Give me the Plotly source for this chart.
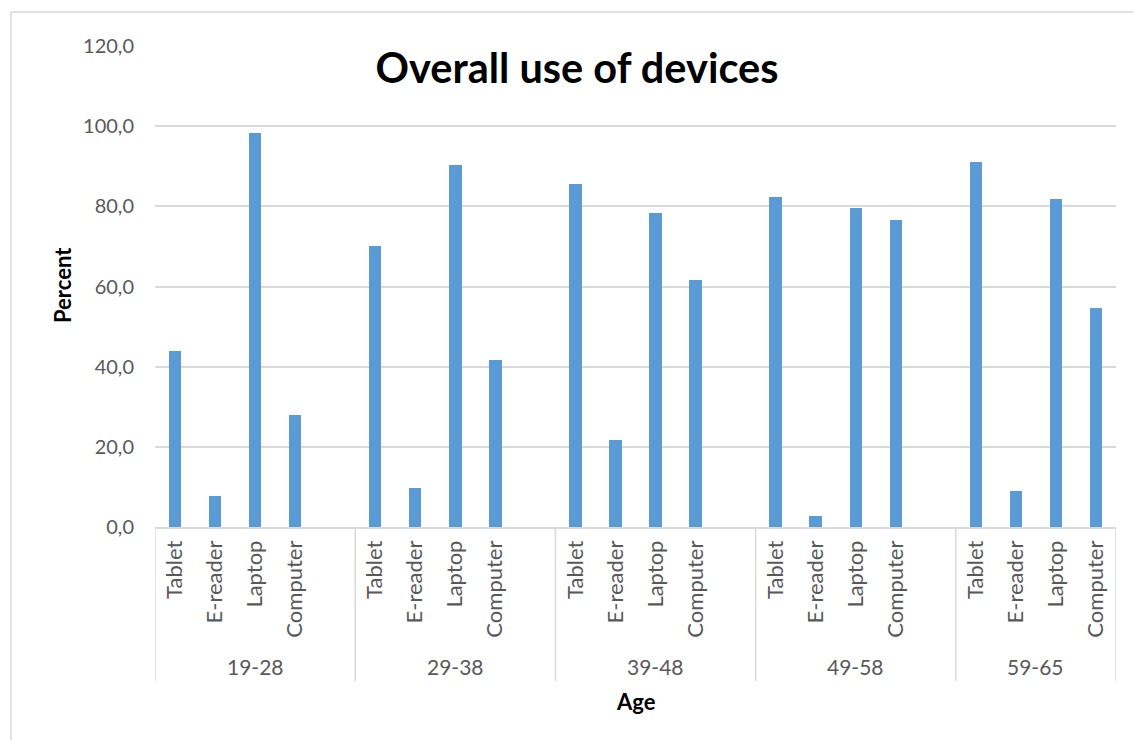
import plotly.graph_objects as go

# ---- data ----
groups = ["19-28", "29-38", "39-48", "49-58", "59-65"]
devices = ["Tablet", "E-reader", "Laptop", "Computer"]
tablet = [43.9, 70.0, 85.5, 82.4, 91.1]
ereader = [7.8, 9.8, 21.7, 2.8, 9.0]
laptop = [98.2, 90.2, 78.3, 79.5, 81.9]
computer = [27.9, 41.6, 61.7, 76.5, 54.6]
y_ticks = [0, 20, 40, 60, 80, 100, 120]

series = [tablet, ereader, laptop, computer]
slots_per_group = len(devices) + 1  # one blank slot between groups
n_slots = slots_per_group * (len(groups) - 1) + len(devices)

xs, ys, labels = [], [], []
for g in range(len(groups)):
    for d in range(len(devices)):
        xs.append(g * slots_per_group + d)
        ys.append(series[d][g])
        labels.append(devices[d])

BAR = "#5B9BD5"
GRID = "#d9d9d9"
TXT = "#595959"
FONT = "Lato"

fig = go.Figure(go.Bar(x=xs, y=ys, width=0.31, marker=dict(color=BAR, line=dict(width=0)),
                       hoverinfo="y"))

# plot area geometry (pixels)
L, R, T, B = 155, 1133 - 1116, 46, 740 - 527
plot_h = 740 - T - B
plot_w = 1133 - L - R

def py(pix):  # pixel y -> paper y
    return (740 - B - pix) / plot_h

def px(pix):
    return (pix - L) / plot_w

shapes = []
# group dividers
bounds = [-0.5] + [g * slots_per_group - 0.5 for g in range(1, len(groups))] + [n_slots - 0.5]
for b in bounds:
    shapes.append(dict(type="line", xref="x", yref="paper", x0=b, x1=b, y0=0, y1=py(681),
                       line=dict(color=GRID, width=1.5)))
# outer chart frame
shapes.append(dict(type="rect", xref="paper", yref="paper", x0=px(11), x1=px(1160),
                   y0=py(780), y1=py(12), line=dict(color=GRID, width=1.5), layer="below"))

annotations = []
for g, name in enumerate(groups):
    start = g * slots_per_group - 0.5
    end = min(start + slots_per_group, n_slots - 0.5)
    annotations.append(dict(x=(start + end) / 2, xref="x", y=py(666), yref="paper",
                            text=name, showarrow=False, xanchor="center", yanchor="middle",
                            font=dict(family=FONT, size=21, color=TXT)))
annotations.append(dict(x=px(636), xref="paper", y=py(701), yref="paper", text="<b>Age</b>",
                        showarrow=False, xanchor="center", yanchor="middle",
                        font=dict(family=FONT, size=22, color="#000000")))
annotations.append(dict(x=px(62), xref="paper", y=py(285), yref="paper", text="<b>Percent</b>",
                        showarrow=False, xanchor="center", yanchor="middle", textangle=-90,
                        font=dict(family=FONT, size=22, color="#000000")))

fig.update_layout(
    width=1133, height=740,
    margin=dict(l=L, r=R, t=T, b=B, autoexpand=False),
    paper_bgcolor="white", plot_bgcolor="white",
    separators=",.",
    showlegend=False,
    title=dict(text="<b>Overall use of devices</b>", xref="container", x=577 / 1133,
               xanchor="center", yref="container", y=1 - 68 / 740, yanchor="middle",
               font=dict(family=FONT, size=41.5, color="#000000")),
    shapes=shapes,
    annotations=annotations,
    bargap=0,
)
fig.update_xaxes(range=[-0.5, n_slots - 0.5], tickmode="array", tickvals=xs, ticktext=labels,
                 tickangle=-90, tickfont=dict(family=FONT, size=22, color=TXT),
                 showline=True, linecolor=GRID, linewidth=1.5, showgrid=False, zeroline=False,
                 ticks="", ticklabelstandoff=3, fixedrange=True)
fig.update_yaxes(range=[0, 120], tickmode="array", tickvals=y_ticks, tickformat=".1f",
                 tickfont=dict(family=FONT, size=20, color=TXT), showgrid=True,
                 gridcolor=GRID, gridwidth=1.5, zeroline=False, showline=False,
                 ticks="", ticklabelstandoff=20, fixedrange=True)

fig.write_html("out.html")
